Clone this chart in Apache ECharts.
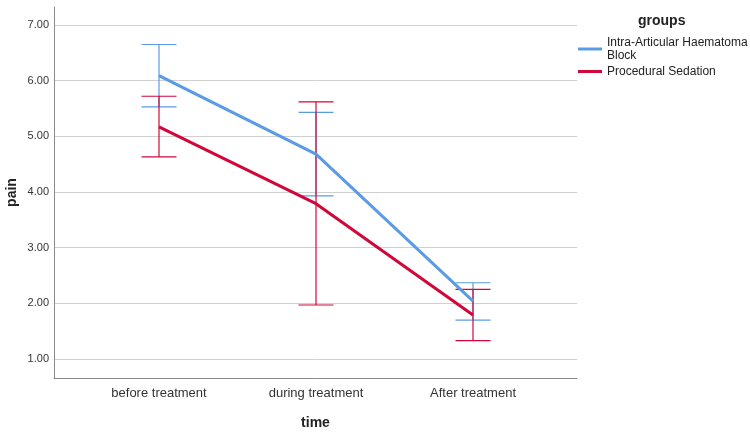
<!DOCTYPE html>
<html><head><meta charset="utf-8">
<script src="https://cdn.jsdelivr.net/npm/echarts@6/dist/echarts.min.js"></script>
<style>html,body{margin:0;padding:0;background:#fff}#c{width:750px;height:433px}</style>
</head><body><div id="c"></div>
<script>
const categories = ['before treatment', 'during treatment', 'After treatment'];
const seriesNames = ['Intra-Articular Haematoma\nBlock', 'Procedural Sedation'];
const blueMean = [6.09, 4.68, 2.04];
const blueLow = [5.53, 3.93, 1.70];
const blueHigh = [6.65, 5.43, 2.37];
const redMean = [5.17, 3.79, 1.79];
const redLow = [4.63, 1.97, 1.33];
const redHigh = [5.72, 5.62, 2.25];
const yTicks = [1, 2, 3, 4, 5, 6, 7];
const colors = ['#5b9be6', '#d1073a'];

const chart = echarts.init(document.getElementById('c'), null, {renderer: 'canvas'});
function errData(lo, hi) { return lo.map((v, i) => [i, v, hi[i]]); }
function errRender(color) {
  return function (params, api) {
    const x = api.value(0);
    const lo = api.coord([x, api.value(1)]);
    const hi = api.coord([x, api.value(2)]);
    const hw = 17.5;
    const st = {stroke: color, lineWidth: 1.2};
    return {type: 'group', children: [
      {type: 'line', shape: {x1: lo[0], y1: lo[1], x2: hi[0], y2: hi[1]}, style: st},
      {type: 'line', shape: {x1: lo[0] - hw, y1: lo[1], x2: lo[0] + hw, y2: lo[1]}, style: st},
      {type: 'line', shape: {x1: hi[0] - hw, y1: hi[1], x2: hi[0] + hw, y2: hi[1]}, style: st}
    ]};
  };
}
const option = {
  backgroundColor: '#fff',
  animation: false,
  textStyle: {fontFamily: 'Liberation Sans, Arial, sans-serif'},
  grid: [
    {left: 54, right: 173, top: 25, bottom: 74, containLabel: false, outerBoundsMode: 'none'},
    {left: 80.5, width: 471, top: 25, bottom: 74, containLabel: false, outerBoundsMode: 'none'},
    {left: 54, right: 173, top: 7, bottom: 55, containLabel: false, outerBoundsMode: 'none'}
  ],
  xAxis: [
    {gridIndex: 0, type: 'value', min: 0, max: 1, show: false},
    {gridIndex: 1, type: 'category', data: categories, boundaryGap: true,
     axisLine: {show: false}, axisTick: {show: false},
     axisLabel: {margin: 28, fontSize: 13, color: '#333'}},
    {gridIndex: 2, type: 'value', min: 0, max: 1,
     axisLine: {show: true, lineStyle: {color: '#8a8a8a', width: 1}},
     axisTick: {show: false}, axisLabel: {show: false}, splitLine: {show: false},
     name: 'time', nameLocation: 'middle', nameGap: 38,
     nameTextStyle: {fontSize: 14, fontWeight: 'bold', color: '#222'}}
  ],
  yAxis: [
    {gridIndex: 0, type: 'value', min: yTicks[0], max: yTicks[yTicks.length - 1], interval: 1,
     axisLine: {show: false}, axisTick: {show: false},
     axisLabel: {margin: 5, fontSize: 11, color: '#333', formatter: v => v.toFixed(2)},
     splitLine: {show: true, lineStyle: {color: '#d0d0d0', width: 1}}},
    {gridIndex: 1, type: 'value', min: yTicks[0], max: yTicks[yTicks.length - 1], show: false},
    {gridIndex: 2, type: 'value', min: 0, max: 1,
     axisLine: {show: true, lineStyle: {color: '#8a8a8a', width: 1}},
     axisTick: {show: false}, axisLabel: {show: false}, splitLine: {show: false},
     name: 'pain', nameLocation: 'middle', nameGap: 35, nameRotate: 90,
     nameTextStyle: {fontSize: 14, fontWeight: 'bold', color: '#222'}}
  ],
  legend: {
    left: 578, top: 36, orient: 'vertical', itemWidth: 24, itemHeight: 3, itemGap: 3,
    padding: 0, icon: 'rect', data: seriesNames,
    textStyle: {fontSize: 12, color: '#222', lineHeight: 13}
  },
  graphic: [{type: 'text', left: 638, top: 14,
    style: {text: 'groups', fontSize: 14, fontWeight: 'bold', fill: '#222', fontFamily: 'Liberation Sans, Arial, sans-serif'}}],
  series: [
    {name: seriesNames[0], type: 'line', xAxisIndex: 1, yAxisIndex: 1, data: blueMean,
     symbol: 'none', lineStyle: {color: colors[0], width: 3}, itemStyle: {color: colors[0]}, z: 5},
    {name: seriesNames[1], type: 'line', xAxisIndex: 1, yAxisIndex: 1, data: redMean,
     symbol: 'none', lineStyle: {color: colors[1], width: 3}, itemStyle: {color: colors[1]}, z: 5},
    {type: 'custom', xAxisIndex: 1, yAxisIndex: 1, data: errData(blueLow, blueHigh),
     renderItem: errRender(colors[0]), z: 4},
    {type: 'custom', xAxisIndex: 1, yAxisIndex: 1, data: errData(redLow, redHigh),
     renderItem: errRender(colors[1]), z: 4}
  ]
};
chart.setOption(option);
</script></body></html>
